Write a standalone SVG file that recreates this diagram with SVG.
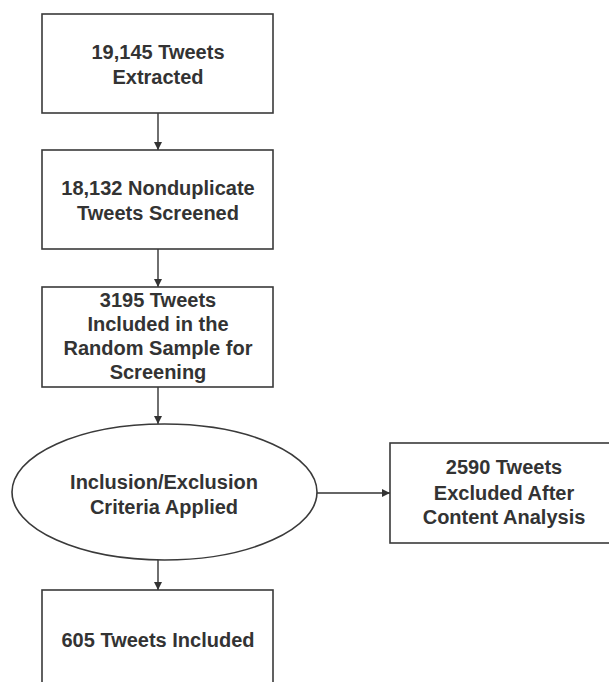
<svg xmlns="http://www.w3.org/2000/svg" width="609" height="682" viewBox="0 0 609 682">
<style>
.box{fill:#fff;stroke:#3a3a3a;stroke-width:1.6}
.t{font-family:"Liberation Sans",Arial,sans-serif;font-weight:bold;font-size:20px;fill:#333;text-anchor:middle}
.c{stroke:#333;stroke-width:1.4;fill:none}
</style>
<defs>
<marker id="ah" viewBox="0 0 10 10" refX="10" refY="5" markerWidth="8" markerHeight="8" markerUnits="userSpaceOnUse" orient="auto">
<path d="M0,0 L10,5 L0,10 z" fill="#333"/>
</marker>
</defs>
<rect width="609" height="682" fill="#fff"/>
<g id="connectors">
<line class="c" x1="158" y1="113" x2="158" y2="150" marker-end="url(#ah)"/>
<line class="c" x1="158" y1="249" x2="158" y2="287" marker-end="url(#ah)"/>
<line class="c" x1="158" y1="387" x2="158" y2="424" marker-end="url(#ah)"/>
<line class="c" x1="158" y1="560" x2="158" y2="590" marker-end="url(#ah)"/>
<line class="c" x1="317" y1="493" x2="390" y2="493" marker-end="url(#ah)"/>
</g>
<g id="n1">
<rect class="box" x="42" y="14" width="231" height="99"/>
<text class="t" x="158" y="59">19,145 Tweets</text>
<text class="t" x="158" y="84">Extracted</text>
</g>
<g id="n2">
<rect class="box" x="42" y="150" width="231" height="99"/>
<text class="t" x="158" y="195">18,132 Nonduplicate</text>
<text class="t" x="158" y="220">Tweets Screened</text>
</g>
<g id="n3">
<rect class="box" x="42" y="287" width="231" height="100"/>
<text class="t" x="158" y="307">3195 Tweets</text>
<text class="t" x="158" y="331">Included in the</text>
<text class="t" x="158" y="355">Random Sample for</text>
<text class="t" x="158" y="379">Screening</text>
</g>
<g id="n4">
<ellipse class="box" cx="164.5" cy="492" rx="152.5" ry="68"/>
<text class="t" x="164" y="489">Inclusion/Exclusion</text>
<text class="t" x="164" y="514">Criteria Applied</text>
</g>
<g id="n5">
<rect class="box" x="390" y="443" width="230" height="100"/>
<text class="t" x="504" y="474">2590 Tweets</text>
<text class="t" x="504" y="500">Excluded After</text>
<text class="t" x="504" y="524">Content Analysis</text>
</g>
<g id="n6">
<rect class="box" x="42" y="590" width="231" height="110"/>
<text class="t" x="158" y="647">605 Tweets Included</text>
</g>
</svg>
